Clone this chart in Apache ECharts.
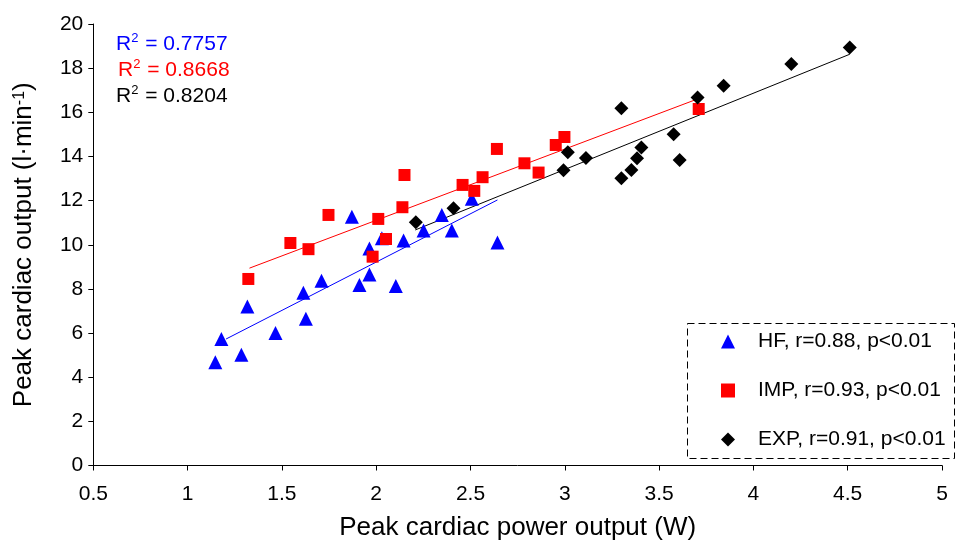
<!DOCTYPE html>
<html>
<head>
<meta charset="utf-8">
<script src="https://cdn.jsdelivr.net/npm/echarts@6/dist/echarts.min.js"></script>
<style>html,body{margin:0;padding:0;background:#fff}#c{width:955px;height:541px}</style>
</head>
<body>
<div id="c"></div>
<script>
// ---- data ----
var hfData = [[1.147,4.68],[1.179,5.73],[1.285,5.02],[1.317,7.20],[1.466,6.00],[1.614,7.82],[1.627,6.65],[1.710,8.37],[1.871,11.27],[1.911,8.18],[1.964,9.83],[1.964,8.65],[2.030,10.29],[2.104,8.13],[2.145,10.19],[2.251,10.64],[2.348,11.35],[2.401,10.64],[2.507,12.08],[2.643,10.10]];
var impData = [[1.322,8.45],[1.545,10.08],[1.641,9.80],[1.747,11.35],[1.981,9.46],[2.011,11.17],[2.052,10.26],[2.139,11.70],[2.150,13.16],[2.458,12.71],[2.520,12.44],[2.564,13.06],[2.640,14.34],[2.786,13.69],[2.861,13.27],[2.952,14.52],[2.998,14.88],[3.710,16.15]];
var expData = [[2.210,11.02],[2.410,11.65],[2.993,13.38],[3.016,14.19],[3.112,13.93],[3.300,16.18],[3.300,13.01],[3.353,13.39],[3.383,13.92],[3.406,14.40],[3.577,15.01],[3.609,13.84],[3.704,16.67],[3.842,17.20],[4.201,18.19],[4.511,18.93]];
var hfFit = [[1.204,5.73],[2.643,12.03]];
var impFit = [[1.328,8.94],[3.715,16.64]];
var expFit = [[2.207,10.67],[4.511,18.63]];
var seriesNames = ['HF, r=0.88, p<0.01','IMP, r=0.93, p<0.01','EXP, r=0.91, p<0.01'];
var r2Labels = ['0.7757','0.8668','0.8204'];
var xTitle = 'Peak cardiac power output (W)';
var yTitle = 'Peak cardiac output (l\u00b7min{s|-1})';

var FONT = '"Liberation Sans", Arial, sans-serif';
var chart = echarts.init(document.getElementById('c'), null, {renderer:'canvas'});

function r2Text(val, color, left, top){
  return {
    type:'text', left:left, top:top, z:10,
    style:{
      text:'{r|R}{s|2}{r| = ' + val + '}',
      fill:color,
      rich:{
        r:{fontSize:21, fontFamily:FONT, fill:color, lineHeight:24},
        s:{fontSize:13, fontFamily:FONT, fill:color, verticalAlign:'top', lineHeight:24, padding:[0,1,0,0]}
      }
    }
  };
}

chart.setOption({
  animation:false,
  backgroundColor:'#fff',
  grid:{left:93.3, right:13, top:24, bottom:75.5, containLabel:false, outerBoundsMode:'none'},
  xAxis:{
    type:'value', min:0.5, max:5, interval:0.5,
    name:xTitle, nameLocation:'middle', nameGap:49,
    nameTextStyle:{fontSize:26, fontFamily:FONT, color:'#000'},
    axisLine:{show:true, onZero:false, lineStyle:{color:'#000', width:1}},
    axisTick:{show:true, inside:false, length:5, lineStyle:{color:'#000'}},
    axisLabel:{fontSize:21, fontFamily:FONT, color:'#000', margin:18},
    splitLine:{show:false}
  },
  yAxis:{
    type:'value', min:0, max:20, interval:2,
    name:yTitle, nameLocation:'middle', nameGap:56,
    nameTextStyle:{fontSize:26, fontFamily:FONT, color:'#000',
      rich:{s:{fontSize:16, fontFamily:FONT, color:'#000', verticalAlign:'top'}}},
    axisLine:{show:true, onZero:false, lineStyle:{color:'#000', width:1}},
    axisTick:{show:true, inside:false, length:5, lineStyle:{color:'#000'}},
    axisLabel:{fontSize:21, fontFamily:FONT, color:'#000', margin:10},
    splitLine:{show:false}
  },
  legend:{
    data:seriesNames, orient:'vertical', left:716, top:326,
    itemWidth:14, itemHeight:14, itemGap:28,
    textStyle:{fontSize:21, fontFamily:FONT, color:'#000', padding:[0,0,0,18]}
  },
  graphic:[
    {type:'rect', shape:{x:687.5, y:323.5, width:267, height:135}, z:5,
     style:{fill:'none', stroke:'#000', lineWidth:1, lineDash:[7,4]}},
    r2Text(r2Labels[0], '#0000ff', 116, 32),
    r2Text(r2Labels[1], '#ff0000', 118, 58),
    r2Text(r2Labels[2], '#000000', 116, 84)
  ],
  series:[
    {name:'hfFit', type:'line', data:hfFit, symbol:'none', silent:true, z:1,
     lineStyle:{color:'#0000ff', width:1}},
    {name:'impFit', type:'line', data:impFit, symbol:'none', silent:true, z:1,
     lineStyle:{color:'#ff0000', width:1}},
    {name:'expFit', type:'line', data:expFit, symbol:'none', silent:true, z:1,
     lineStyle:{color:'#000000', width:1}},
    {name:seriesNames[0], type:'scatter', data:hfData, symbol:'triangle', symbolSize:14, z:3,
     itemStyle:{color:'#0000ff', opacity:1}},
    {name:seriesNames[1], type:'scatter', data:impData, symbol:'rect', symbolSize:12, z:3,
     itemStyle:{color:'#ff0000', opacity:1}},
    {name:seriesNames[2], type:'scatter', data:expData, symbol:'diamond', symbolSize:14, z:4,
     itemStyle:{color:'#000000', opacity:1}}
  ]
});
</script>
</body>
</html>
